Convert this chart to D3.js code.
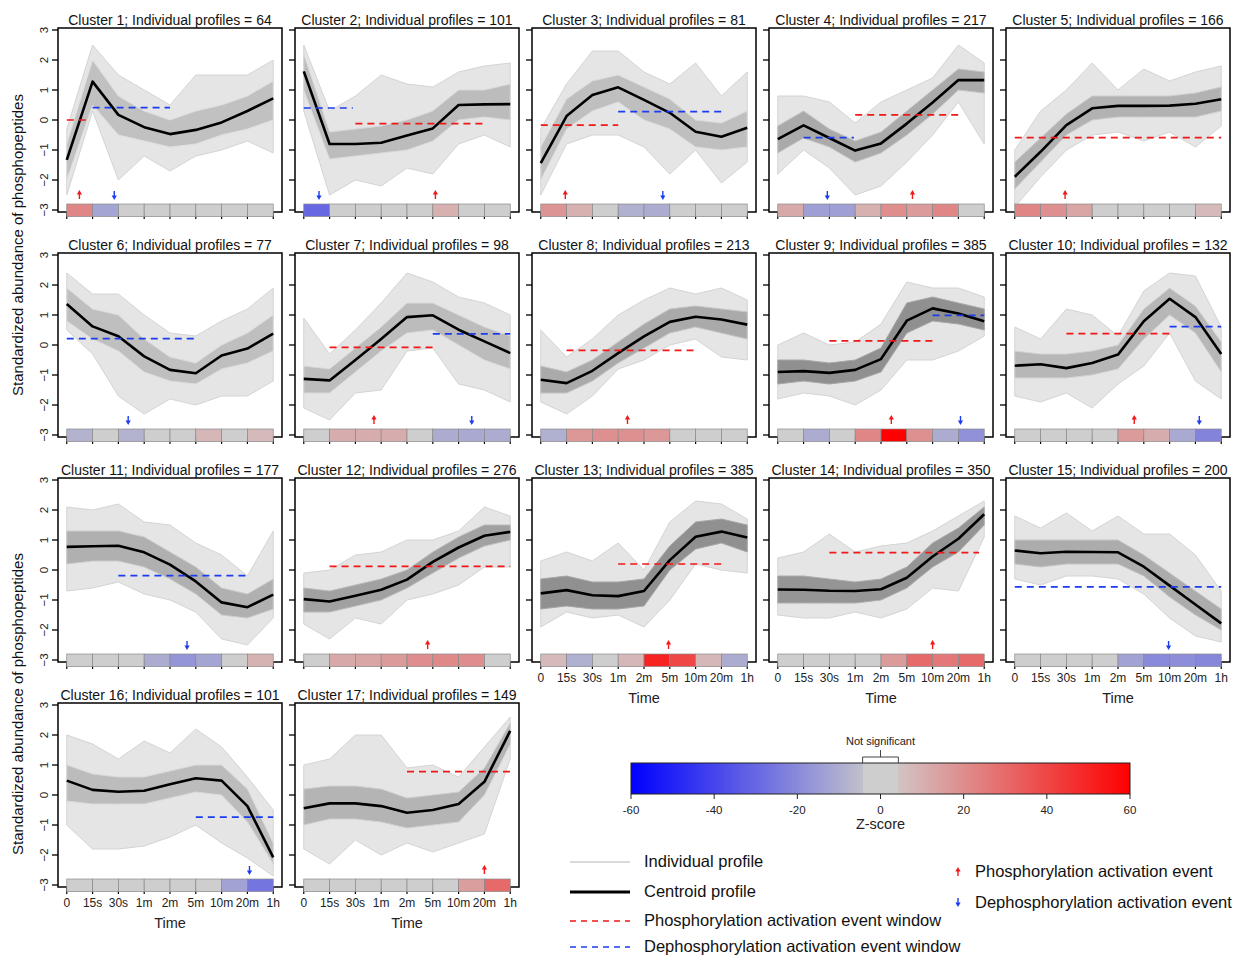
<!DOCTYPE html>
<html>
<head>
<meta charset="utf-8">
<script src="https://cdn.jsdelivr.net/npm/d3@7"></script>
<style>
  body { margin: 0; background: #fff; }
  svg { display: block; font-family: "Liberation Sans", Arial, Helvetica, sans-serif; }
</style>
</head>
<body>
<svg id="chart" width="1239" height="956"></svg>
<script>
// grade de perfis temporais por cluster (17 paineis)
const TIME_LABELS = ["0", "15s", "30s", "1m", "2m", "5m", "10m", "20m", "1h"];
const PROFILE_COUNTS = [64, 101, 81, 217, 166, 77, 98, 213, 385, 132, 177, 276, 385, 350, 200, 101, 149];

const CENTROIDS = [
  [-1.33, 1.28, 0.17, -0.24, -0.47, -0.33, -0.08, 0.30, 0.72],
  [1.62, -0.80, -0.80, -0.76, -0.52, -0.28, 0.50, 0.52, 0.53],
  [-1.44, 0.13, 0.83, 1.09, 0.67, 0.24, -0.39, -0.56, -0.26],
  [-0.64, -0.18, -0.60, -1.02, -0.78, -0.12, 0.58, 1.33, 1.33],
  [-1.89, -1.06, -0.17, 0.39, 0.47, 0.47, 0.48, 0.54, 0.69],
  [1.37, 0.62, 0.29, -0.38, -0.83, -0.94, -0.35, -0.12, 0.38],
  [-1.13, -1.18, -0.50, 0.20, 0.93, 0.99, 0.51, 0.12, -0.27],
  [-1.16, -1.27, -0.86, -0.27, 0.29, 0.77, 0.94, 0.85, 0.68],
  [-0.90, -0.87, -0.93, -0.83, -0.47, 0.81, 1.22, 1.05, 0.79],
  [-0.69, -0.64, -0.77, -0.60, -0.32, 0.79, 1.54, 0.93, -0.30],
  [0.77, 0.79, 0.81, 0.59, 0.18, -0.38, -1.08, -1.24, -0.82],
  [-0.97, -1.05, -0.86, -0.66, -0.32, 0.27, 0.75, 1.14, 1.27],
  [-0.78, -0.67, -0.84, -0.87, -0.70, 0.33, 1.11, 1.28, 1.08],
  [-0.65, -0.66, -0.69, -0.70, -0.64, -0.26, 0.45, 1.04, 1.86],
  [0.65, 0.56, 0.61, 0.60, 0.59, 0.11, -0.52, -1.15, -1.78],
  [0.48, 0.17, 0.11, 0.14, 0.36, 0.56, 0.48, -0.37, -2.08],
  [-0.44, -0.28, -0.28, -0.37, -0.59, -0.50, -0.30, 0.44, 2.14],
];

// envelope of all individual profiles (min / max per time point)
const OUTER_LO = [
  [-2.5, 0.3, -2.0, -1.2, -1.7, -1.2, -1.0, -0.7, -1.1],
  [0.3, -2.5, -2.0, -2.2, -1.6, -1.8, -0.8, -0.5, -0.9],
  [-2.5, -0.8, -0.5, -0.5, -0.9, -1.8, -1.0, -2.1, -1.4],
  [-1.8, -1.0, -1.6, -2.5, -2.2, -1.4, -0.5, 0.6, -0.8],
  [-2.9, -1.9, -1.0, -0.5, -0.4, -0.7, -0.4, -0.9, -0.2],
  [0.5, -0.3, -1.7, -2.3, -1.8, -2.0, -1.7, -1.7, -1.2],
  [-2.1, -2.5, -1.6, -1.5, -0.2, -0.1, -1.3, -1.5, -1.9],
  [-1.9, -2.3, -1.7, -0.8, -0.5, 0.0, 0.2, -0.4, -0.5],
  [-1.8, -1.6, -1.7, -2.0, -1.5, -0.5, -0.5, -0.2, 0.3],
  [-1.7, -1.9, -1.6, -2.1, -1.3, -0.7, 0.4, -1.2, -1.8],
  [-0.7, -0.6, -0.4, -0.8, -1.0, -1.4, -2.3, -2.5, -1.6],
  [-1.8, -2.3, -1.6, -1.8, -1.0, -0.8, -0.5, 0.1, 0.1],
  [-1.9, -1.4, -1.6, -1.5, -1.9, -1.0, 0.2, 0.0, -0.1],
  [-1.5, -1.6, -1.6, -1.4, -1.6, -1.3, -0.6, -0.7, 1.1],
  [-0.3, -0.5, -0.2, -0.2, -0.3, -0.8, -1.6, -2.2, -2.4],
  [-1.0, -1.8, -1.8, -1.7, -1.4, -1.0, -1.6, -2.1, -2.7],
  [-1.8, -2.3, -1.5, -2.0, -1.6, -1.9, -1.6, -1.3, 1.2],
];
const OUTER_HI = [
  [-0.3, 2.5, 1.5, 1.0, 0.5, 1.5, 1.5, 1.5, 2.0],
  [2.5, 0.3, 0.8, 1.5, 1.2, 1.1, 1.6, 1.8, 1.9],
  [-0.3, 1.2, 2.3, 2.3, 1.6, 1.2, 1.9, 0.8, 1.6],
  [0.8, 0.8, 0.6, -0.1, 0.6, 1.0, 1.4, 2.5, 1.9],
  [-1.0, 0.3, 1.0, 1.9, 1.0, 1.7, 1.3, 1.6, 1.8],
  [2.4, 1.7, 1.7, 1.0, 0.4, 0.3, 0.8, 1.2, 1.9],
  [0.9, -0.3, 0.5, 1.4, 2.4, 2.1, 1.6, 1.4, 1.0],
  [0.5, -0.4, 0.2, 1.0, 1.5, 1.9, 1.7, 1.9, 1.5],
  [0.0, 0.4, 0.0, 0.1, 0.7, 2.1, 1.9, 1.9, 1.6],
  [0.6, 0.2, 1.2, 1.0, 0.3, 1.8, 2.4, 2.3, 0.6],
  [2.1, 2.0, 2.2, 1.6, 1.5, 0.9, 0.5, -0.2, 1.3],
  [-0.1, 0.0, 0.5, 0.6, 1.0, 1.0, 1.3, 2.1, 1.8],
  [0.3, 0.6, 0.3, 0.9, 0.0, 1.6, 2.3, 2.2, 1.7],
  [0.4, 0.6, 1.2, 0.6, 0.8, 0.9, 1.3, 1.8, 2.3],
  [1.8, 1.4, 1.9, 1.3, 1.8, 1.2, 1.2, 0.5, -0.7],
  [2.0, 1.7, 1.2, 1.8, 1.4, 2.2, 1.6, 0.6, -0.5],
  [1.0, 1.2, 2.0, 2.0, 0.9, 1.0, 0.6, 1.6, 2.6],
];
// dense core where most profiles run
const INNER_LO = [
  [-2.0, 0.5, -0.5, -0.7, -0.9, -0.8, -0.5, -0.3, 0.0],
  [1.0, -1.3, -1.2, -1.1, -1.0, -0.7, 0.0, 0.1, 0.0],
  [-2.0, -0.3, 0.3, 0.6, 0.0, -0.3, -0.9, -1.0, -0.9],
  [-1.1, -0.6, -0.9, -1.4, -1.1, -0.5, 0.2, 1.0, 0.9],
  [-2.3, -1.4, -0.5, 0.0, 0.1, 0.1, 0.1, 0.1, 0.3],
  [0.8, 0.2, -0.2, -0.9, -1.2, -1.3, -0.8, -0.6, -0.2],
  [-1.6, -1.6, -0.9, -0.2, 0.4, 0.5, 0.0, -0.5, -0.8],
  [-1.6, -1.6, -1.2, -0.6, -0.1, 0.4, 0.6, 0.4, 0.2],
  [-1.3, -1.2, -1.3, -1.2, -0.9, 0.4, 0.8, 0.7, 0.5],
  [-1.1, -1.1, -1.1, -1.0, -0.8, 0.2, 1.0, 0.4, -0.9],
  [0.2, 0.3, 0.3, 0.1, -0.3, -0.8, -1.5, -1.6, -1.3],
  [-1.4, -1.4, -1.2, -1.0, -0.6, -0.1, 0.4, 0.8, 1.0],
  [-1.3, -1.2, -1.3, -1.3, -1.2, 0.0, 0.7, 0.9, 0.6],
  [-1.1, -1.1, -1.1, -1.1, -1.0, -0.6, 0.1, 0.6, 1.5],
  [0.2, 0.1, 0.2, 0.2, 0.2, -0.2, -0.9, -1.5, -2.0],
  [-0.2, -0.3, -0.3, -0.3, -0.1, 0.1, 0.0, -0.9, -2.3],
  [-1.0, -0.8, -0.8, -0.9, -1.1, -1.0, -0.9, 0.0, 1.7],
];
const INNER_HI = [
  [-0.8, 2.0, 0.8, 0.3, 0.0, 0.3, 0.5, 0.8, 1.3],
  [2.2, -0.4, -0.3, -0.2, 0.0, 0.3, 1.0, 1.0, 1.2],
  [-0.9, 0.7, 1.3, 1.5, 1.1, 0.7, 0.0, -0.1, 0.3],
  [-0.2, 0.3, -0.3, -0.7, -0.4, 0.3, 1.0, 1.7, 1.6],
  [-1.4, -0.6, 0.2, 0.8, 0.8, 0.8, 0.8, 0.9, 1.1],
  [1.9, 1.2, 1.0, 0.2, -0.4, -0.6, 0.0, 0.4, 1.0],
  [-0.7, -0.8, -0.1, 0.6, 1.4, 1.4, 1.0, 0.6, 0.3],
  [-0.7, -0.9, -0.5, 0.1, 0.7, 1.2, 1.3, 1.2, 1.1],
  [-0.5, -0.5, -0.6, -0.5, -0.1, 1.4, 1.6, 1.4, 1.2],
  [-0.2, -0.3, -0.3, -0.2, 0.0, 1.2, 1.9, 1.3, 0.1],
  [1.3, 1.3, 1.3, 1.1, 0.6, 0.1, -0.6, -0.8, -0.3],
  [-0.6, -0.7, -0.5, -0.3, 0.0, 0.6, 1.1, 1.5, 1.5],
  [-0.3, -0.2, -0.4, -0.4, -0.3, 0.8, 1.6, 1.7, 1.5],
  [-0.2, -0.2, -0.3, -0.4, -0.3, 0.1, 0.9, 1.4, 2.1],
  [1.0, 1.0, 1.0, 1.0, 1.0, 0.5, -0.1, -0.7, -1.3],
  [1.0, 0.7, 0.6, 0.6, 0.8, 1.0, 1.0, 0.2, -1.6],
  [0.2, 0.3, 0.3, 0.2, -0.1, 0.0, 0.1, 0.9, 2.4],
];

// event windows: [start index, end index, level]
const PHOS_WINDOWS = [
  [0, 0.77, 0.0], [2, 7.05, -0.12], [0, 3, -0.17], [3, 7.05, 0.17], [0, 8, -0.59],
  null, [1, 5.05, -0.08], [1, 6, -0.18], [2, 6, 0.14], [2, 6, 0.38],
  null, [1, 8, 0.12], [3, 7, 0.2], [2, 7.8, 0.58], null,
  null, [4, 8, 0.78],
];
const DEPHOS_WINDOWS = [
  [1, 4, 0.41], [0, 1.9, 0.4], [3, 7.06, 0.28], [1, 2.95, -0.59], null,
  [0, 5.06, 0.21], [5, 8, 0.37], null, [6, 8, 0.99], [6, 8, 0.61],
  [2, 7, -0.19], null, null, null, [0, 8, -0.56],
  [5, 8, -0.74], null,
];
// event positions (fractional time index)
const PHOS_EVENTS = [0.49, 5.1, 0.95, 5.22, 1.95, null, 2.72, 3.36, 4.4, 4.63, null, 4.8, 4.95, 6.0, null, null, 7.0];
const DEPHOS_EVENTS = [1.84, 0.59, 4.73, 1.92, null, 2.38, 6.51, null, 7.08, 7.15, 4.66, null, null, null, 5.96, 7.08, null];

// z-scores of the 8 intervals
const Z_SCORES = [
  [22, -12, 0, 0, 0, 0, 0, 0],
  [-30, 0, 0, 0, 0, 10, 0, 0],
  [18, 10, 0, -9, -10, 0, 0, 0],
  [12, -14, -14, 10, 20, 16, 22, 0],
  [22, 19, 13, 0, 0, 0, 0, 7],
  [-8, 0, -8, 0, 0, 8, 0, 7],
  [0, 11, 11, 11, 0, -10, -11, -10],
  [-9, 17, 19, 19, 17, 0, 0, 0],
  [0, -10, 0, 22, 60, 19, -10, -18],
  [0, 0, 0, 0, 16, 11, -11, -22],
  [0, 0, 0, -10, -17, -12, 0, 9],
  [0, 12, 13, 16, 20, 21, 20, 0],
  [7, -9, 0, 8, 50, 40, 8, -10],
  [0, 0, 0, 0, 16, 30, 26, 30],
  [0, 0, 0, 0, -13, -20, -19, -21],
  [0, 0, 0, 0, 0, 0, -13, -26],
  [0, 0, 0, 0, 0, 0, 15, 30],
];
const Z_TICKS = [-60, -40, -20, 0, 20, 40, 60];
const Y_TICKS = [-3, -2, -1, 0, 1, 2, 3];

const NS_LIMIT = 4.3;
const NS_GRAY = "#cecece";
const negRamp = d3.interpolateRgb("#0000ff", "#c0c0cc");
const posRamp = d3.interpolateRgb("#d2c4c4", "#ff0000");
function zColor(z) {
  if (Math.abs(z) < NS_LIMIT) {
    return NS_GRAY;
  }
  if (z < 0) {
    return negRamp((z + 60) / (60 - NS_LIMIT));
  }
  return posRamp((z - NS_LIMIT) / (60 - NS_LIMIT));
}

const svg = d3.select("#chart");
const BOX_W = 224;
const STEP_X = 237;
const STEP_Y = 225;
const innerShade = d3.scaleLinear().domain([60, 390]).range(["#c2c2c2", "#8f8f8f"]).clamp(true);

function drawPanel(k) {
  const col = k % 5;
  const row = Math.floor(k / 5);
  const left = 58 + col * STEP_X;
  const top = 30 + row * STEP_Y;
  const x = d3.scaleLinear().domain([-0.34, 8.34]).range([left, left + BOX_W]);
  const y = d3.scaleLinear().domain([-3, 3]).range([top + 180, top]);
  const idx = d3.range(9);
  const g = svg.append("g").attr("class", "panel");

  // individual profiles shown as envelope + dense core
  const area = (lo, hi) => d3.area().x((i) => x(i)).y0((i) => y(lo[i])).y1((i) => y(hi[i]))(idx);
  g.append("path").attr("d", area(OUTER_LO[k], OUTER_HI[k]))
    .attr("fill", "#e5e5e5").attr("stroke", "#d4d4d4").attr("stroke-width", 1);
  g.append("path").attr("d", area(INNER_LO[k], INNER_HI[k]))
    .attr("fill", innerShade(PROFILE_COUNTS[k])).attr("stroke", d3.color(innerShade(PROFILE_COUNTS[k])).brighter(0.4)).attr("stroke-width", 1);

  // centroid
  g.append("path")
    .attr("d", d3.line().x((i) => x(i)).y((i) => y(CENTROIDS[k][i]))(idx))
    .attr("fill", "none").attr("stroke", "#000").attr("stroke-width", 2.6).attr("stroke-linejoin", "round");

  // event windows
  [[PHOS_WINDOWS[k], "#f01818"], [DEPHOS_WINDOWS[k], "#1c3cf0"]].forEach(([w, c]) => {
    if (!w) return;
    g.append("line")
      .attr("x1", x(w[0])).attr("x2", x(w[1]))
      .attr("y1", y(w[2])).attr("y2", y(w[2]))
      .attr("stroke", c).attr("stroke-width", 1.7).attr("stroke-dasharray", "7,5");
  });

  // events
  if (PHOS_EVENTS[k] != null) drawArrow(g, x(PHOS_EVENTS[k]), y(-2.5), true);
  if (DEPHOS_EVENTS[k] != null) drawArrow(g, x(DEPHOS_EVENTS[k]), y(-2.5), false);

  // frame
  const bTop = top - 2;
  const bBot = top + 182;
  g.append("rect").attr("x", left).attr("y", bTop).attr("width", BOX_W).attr("height", bBot - bTop)
    .attr("fill", "none").attr("stroke", "#000").attr("stroke-width", 1.5);

  // y ticks
  Y_TICKS.forEach((v) => {
    g.append("line").attr("x1", left - 6).attr("x2", left).attr("y1", y(v)).attr("y2", y(v))
      .attr("stroke", "#000").attr("stroke-width", 1.3);
    if (col === 0) {
      g.append("text")
        .attr("transform", `translate(${left - 10},${y(v)}) rotate(-90)`)
        .attr("text-anchor", "middle").attr("font-size", 11.5).attr("fill", "#222")
        .text(v < 0 ? "\u2212" + Math.abs(v) : String(v));
    }
  });

  // x ticks
  idx.forEach((i) => {
    g.append("line").attr("x1", x(i)).attr("x2", x(i)).attr("y1", bBot).attr("y2", bBot + 7)
      .attr("stroke", "#000").attr("stroke-width", 1.2);
  });

  // z-score strip
  g.selectAll("rect.cell").data(Z_SCORES[k]).enter().append("rect")
    .attr("class", "cell")
    .attr("x", (d, i) => x(i)).attr("width", (d, i) => x(i + 1) - x(i))
    .attr("y", y(-2.8)).attr("height", y(-3.22) - y(-2.8))
    .attr("fill", (d) => zColor(d)).attr("stroke", "#8a8a8a").attr("stroke-width", 0.7);

  // title
  g.append("text").attr("x", left + BOX_W / 2).attr("y", top - 5)
    .attr("text-anchor", "middle").attr("font-size", 14).attr("fill", "#111")
    .text(`Cluster ${k + 1}; Individual profiles = ${PROFILE_COUNTS[k]}`);

  // x labels on bottom panel of each column
  if (k >= 12) {
    idx.forEach((i) => {
      g.append("text").attr("x", x(i)).attr("y", bBot + 20)
        .attr("text-anchor", "middle").attr("font-size", 12).attr("fill", "#222")
        .text(TIME_LABELS[i]);
    });
    g.append("text").attr("x", x(4)).attr("y", bBot + 41)
      .attr("text-anchor", "middle").attr("font-size", 14.5).attr("fill", "#222").text("Time");
  }
}

function drawArrow(g, px, py, up) {
  const c = up ? "#f01818" : "#1c3cf0";
  const s = up ? 1 : -1;
  g.append("line").attr("x1", px).attr("x2", px).attr("y1", py + 4 * s).attr("y2", py - 1 * s)
    .attr("stroke", c).attr("stroke-width", 1.4);
  g.append("path")
    .attr("d", `M${px - 2.6},${py - 0.5 * s} L${px + 2.6},${py - 0.5 * s} L${px},${py - 5 * s} Z`)
    .attr("fill", c);
}

d3.range(17).forEach(drawPanel);

// y axis titles
[245, 704].forEach((cy) => {
  svg.append("text").attr("transform", `translate(23,${cy}) rotate(-90)`)
    .attr("text-anchor", "middle").attr("font-size", 15).attr("fill", "#111")
    .text("Standardized abundance of phosphopeptides");
});

// colour bar
const zx = d3.scaleLinear().domain([-60, 60]).range([631, 1130]);
const defs = svg.append("defs");
const grad = defs.append("linearGradient").attr("id", "zgrad").attr("x1", "0%").attr("x2", "100%");
const pct = (z) => ((z + 60) / 120) * 100;
const gradStops = [
  [-NS_LIMIT, NS_GRAY], [NS_LIMIT, NS_GRAY],
  ...d3.range(-60, 61, 2).filter((z) => Math.abs(z) > NS_LIMIT).map((z) => [z, zColor(z)]),
  [-NS_LIMIT - 0.001, zColor(-NS_LIMIT - 0.001)], [NS_LIMIT + 0.001, zColor(NS_LIMIT + 0.001)],
].sort((a, b) => a[0] - b[0]);
gradStops.forEach(([z, c]) => grad.append("stop").attr("offset", `${pct(z)}%`).attr("stop-color", c));

svg.append("rect").attr("x", zx(-60)).attr("y", 763).attr("width", zx(60) - zx(-60)).attr("height", 31)
  .attr("fill", "url(#zgrad)").attr("stroke", "#222").attr("stroke-width", 1);
Z_TICKS.forEach((z) => {
  svg.append("line").attr("x1", zx(z)).attr("x2", zx(z)).attr("y1", 794).attr("y2", 799).attr("stroke", "#222");
  svg.append("text").attr("x", zx(z)).attr("y", 814).attr("text-anchor", "middle")
    .attr("font-size", 11.5).attr("fill", "#222").text(z);
});
svg.append("text").attr("x", zx(0)).attr("y", 829).attr("text-anchor", "middle")
  .attr("font-size", 14.5).attr("fill", "#222").text("Z-score");
svg.append("path")
  .attr("d", `M${zx(-NS_LIMIT)},763 V757 H${zx(NS_LIMIT)} V763 M${zx(0)},757 V750`)
  .attr("fill", "none").attr("stroke", "#444").attr("stroke-width", 1);
svg.append("text").attr("x", zx(0)).attr("y", 745).attr("text-anchor", "middle")
  .attr("font-size", 11).attr("fill", "#222").text("Not significant");

// legend
const legend = [
  { label: "Individual profile", color: "#d9d9d9", width: 2, dash: null, y: 862 },
  { label: "Centroid profile", color: "#000", width: 3, dash: null, y: 892 },
  { label: "Phosphorylation activation event window", color: "#f01818", width: 1.6, dash: "6,5", y: 921 },
  { label: "Dephosphorylation activation event window", color: "#1c3cf0", width: 1.6, dash: "6,5", y: 947 },
];
legend.forEach((d) => {
  svg.append("line").attr("x1", 570).attr("x2", 630).attr("y1", d.y).attr("y2", d.y)
    .attr("stroke", d.color).attr("stroke-width", d.width).attr("stroke-dasharray", d.dash);
  svg.append("text").attr("x", 644).attr("y", d.y + 5).attr("font-size", 16.5).attr("fill", "#111").text(d.label);
});
const lg = svg.append("g");
drawArrow(lg, 958, 872, true);
lg.append("text").attr("x", 975).attr("y", 877).attr("font-size", 16.5).attr("fill", "#111").text("Phosphorylation activation event");
drawArrow(lg, 958, 902, false);
lg.append("text").attr("x", 975).attr("y", 908).attr("font-size", 16.5).attr("fill", "#111").text("Dephosphorylation activation event");
</script>
</body>
</html>
